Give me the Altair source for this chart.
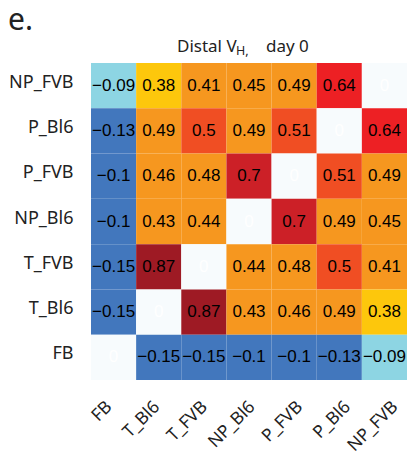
import altair as alt
import pandas as pd

rows = ["NP_FVB", "P_Bl6", "P_FVB", "NP_Bl6", "T_FVB", "T_Bl6", "FB"]
cols = ["FB", "T_Bl6", "T_FVB", "NP_Bl6", "P_FVB", "P_Bl6", "NP_FVB"]

r_np_fvb = [-0.09, 0.38, 0.41, 0.45, 0.49, 0.64, 0]
r_p_bl6 = [-0.13, 0.49, 0.5, 0.49, 0.51, 0, 0.64]
r_p_fvb = [-0.1, 0.46, 0.48, 0.7, 0, 0.51, 0.49]
r_np_bl6 = [-0.1, 0.43, 0.44, 0, 0.7, 0.49, 0.45]
r_t_fvb = [-0.15, 0.87, 0, 0.44, 0.48, 0.5, 0.41]
r_t_bl6 = [-0.15, 0, 0.87, 0.43, 0.46, 0.49, 0.38]
r_fb = [0, -0.15, -0.15, -0.1, -0.1, -0.13, -0.09]
matrix = [r_np_fvb, r_p_bl6, r_p_fvb, r_np_bl6, r_t_fvb, r_t_bl6, r_fb]

thresholds = [-0.095, -0.05, 0.2, 0.4, 0.495, 0.6, 0.67, 0.8]
colors = ["#4277bd", "#8dd5e3", "#f7fbfd", "#fdc70c", "#f6971f",
          "#f04e23", "#ed2024", "#cc2027", "#9e1a24"]

records = []
for i, r in enumerate(rows):
    for j, c in enumerate(cols):
        records.append({"row": r, "col": c, "value": matrix[i][j]})
df = pd.DataFrame(records)
lab_df = pd.DataFrame({"col": cols})

base = alt.Chart(df).encode(
    x=alt.X("col:N", sort=cols, title=None,
            scale=alt.Scale(paddingInner=0, paddingOuter=0), axis=None),
    y=alt.Y("row:N", sort=rows, title=None,
            scale=alt.Scale(paddingInner=0, paddingOuter=0),
            axis=alt.Axis(ticks=False, domain=False, labelPadding=18,
                          labelFontSize=18, labelFont="Noto Sans",
                          labelColor="#222", labelOffset=-3)),
)

rects = base.mark_rect(strokeWidth=0).encode(
    color=alt.Color("value:Q", legend=None,
                    scale=alt.Scale(type="threshold", domain=thresholds, range=colors))
)

texts = base.mark_text(font="Liberation Sans", fontSize=17).encode(
    text=alt.Text("value:Q", format=".2~f"),
    color=alt.condition("datum.value == 0", alt.value("white"), alt.value("black")),
)

xlabels = alt.Chart(lab_df).mark_text(
    angle=315, align="right", baseline="top", fontSize=17.5,
    font="Noto Sans", color="#222"
).encode(
    x=alt.X("col:N", sort=cols, axis=None,
            scale=alt.Scale(type="point", range=[12, 298], padding=0)),
    y=alt.value(335),
    text="col:N",
)

title_df = pd.DataFrame({"t": ["Distal V"]})
t1 = alt.Chart(title_df).mark_text(align="left", baseline="alphabetic", fontSize=17,
                                   font="Noto Sans", color="#222").encode(
    x=alt.value(86), y=alt.value(-11), text=alt.value("Distal V"))
t2 = alt.Chart(title_df).mark_text(align="left", baseline="alphabetic", fontSize=12.5,
                                   font="Noto Sans", color="#222").encode(
    x=alt.value(145), y=alt.value(-8), text=alt.value("H,"))
t3 = alt.Chart(title_df).mark_text(align="left", baseline="alphabetic", fontSize=17,
                                   font="Noto Sans", color="#222").encode(
    x=alt.value(175), y=alt.value(-11), text=alt.value("day 0"))
panel = alt.Chart(title_df).mark_text(align="left", baseline="alphabetic", fontSize=30,
                                      font="Noto Sans", color="#222").encode(
    x=alt.value(-83), y=alt.value(-33), text=alt.value("e."))

chart = alt.layer(rects, texts, xlabels, t1, t2, t3, panel).resolve_scale(
    x="independent"
).properties(
    width=316, height=317,
    autosize=alt.AutoSizeParams(type="none"),
    padding={"left": 83, "top": 55, "right": 0, "bottom": 75},
    background="white",
).configure_view(stroke=None)

chart.save("out.html", embed_options={"renderer": "svg", "actions": False})
